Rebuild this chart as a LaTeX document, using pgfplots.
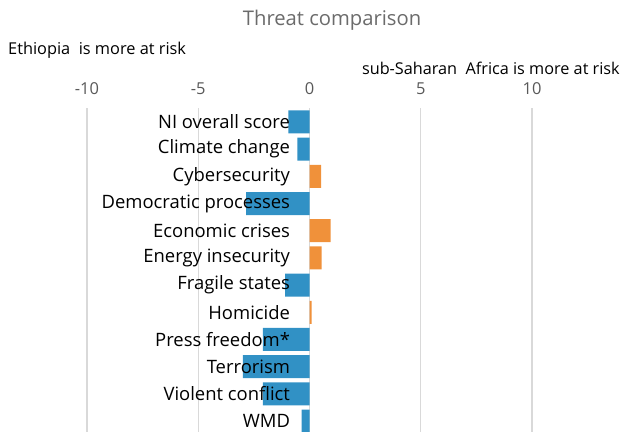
\documentclass[border=0pt]{standalone}
\usepackage{pgfplots}
\pgfplotsset{compat=1.18}
\usepackage{fontspec}
\setmainfont{Open Sans}
\definecolor{cblue}{HTML}{3191C5}
\definecolor{corange}{HTML}{F0913A}
\definecolor{gridc}{HTML}{D9D9D9}
\definecolor{tickc}{HTML}{595959}
\definecolor{titlec}{HTML}{6B6B6B}
\tikzset{catlab/.style={anchor=east, inner sep=0pt, xshift=-19.3bp, font=\fontsize{18.5}{21}\selectfont}}
\begin{document}
\begin{tikzpicture}
\begin{axis}[
  scale only axis, width=534bp, height=326.2bp,
  xmin=-10, xmax=14, ymin=-0.5, ymax=11.5, y dir=reverse,
  xbar, bar width=23bp, bar shift=0pt,
  xtick={-10,-5,0,5,10}, xtick pos=top, xticklabel pos=top,
  xmajorgrids, grid style={gridc, line width=1.2bp},
  axis line style={draw=none}, tick style={draw=none},
  xticklabel style={font=\fontsize{16.5}{18}\selectfont, text=tickc, yshift=10bp},
  /pgf/number format/assume math mode=true,
  ytick=\empty,
  clip=false,
]
\addplot[fill=cblue, draw=none] coordinates {(-0.95,0) (-0.55,1) (-2.85,3) (-1.1,6) (-2.1,8) (-3.0,9) (-2.1,10) (-0.35,11)};
\addplot[fill=corange, draw=none] coordinates {(0.52,2) (0.95,4) (0.55,5) (0.1,7)};
\foreach \n [count=\i from 0] in {NI overall score,Climate change,Cybersecurity,Democratic processes,Economic crises,Energy insecurity,Fragile states,Homicide,Press freedom*,Terrorism,Violent conflict,WMD}{
  \edef\temp{\noexpand\node[catlab] at (axis cs:0,\i) {\n};}
  \temp
}
\coordinate (BL) at (rel axis cs:0,0);
\node[anchor=center, font=\fontsize{20.3}{22}\selectfont, text=titlec] at (rel axis cs:0.459,1.271) {Threat comparison};
\node[anchor=west, inner sep=0pt, font=\fontsize{16.4}{18}\selectfont] at (rel axis cs:-0.148,1.179) {Ethiopia\ \ is more at risk};
\node[anchor=east, inner sep=0pt, font=\fontsize{16.3}{18}\selectfont] at (rel axis cs:0.998,1.124) {sub-Saharan\ \ Africa is more at risk};
\end{axis}
\pgfresetboundingbox
\path[use as bounding box] ([xshift=-87bp,yshift=2.6bp]BL) rectangle +(622bp,432bp);
\end{tikzpicture}
\end{document}
